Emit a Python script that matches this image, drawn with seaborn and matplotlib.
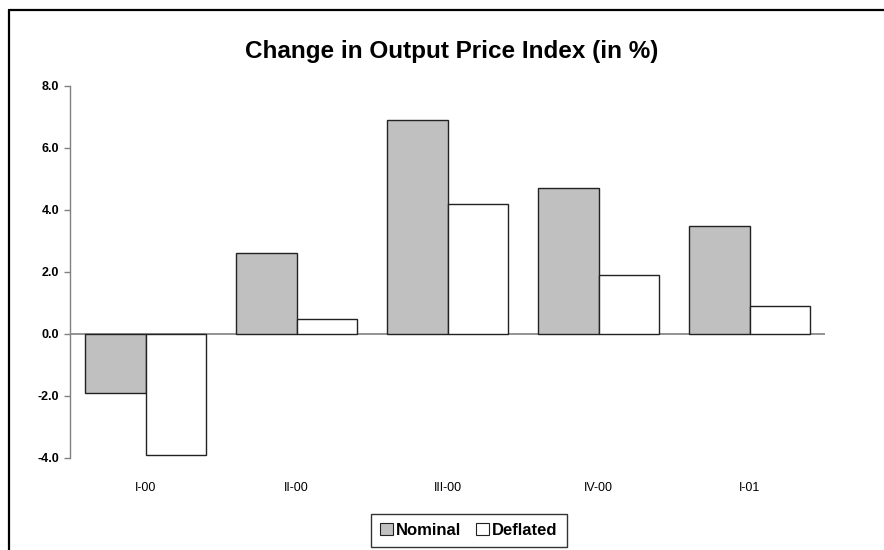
import matplotlib
matplotlib.use("Agg")
import matplotlib.pyplot as plt
from matplotlib.lines import Line2D
from matplotlib.patches import Patch
import seaborn as sns
import pandas as pd

categories = ["I-00", "II-00", "III-00", "IV-00", "I-01"]
nominal = [-1.9, 2.6, 6.9, 4.7, 3.5]
deflated = [-3.9, 0.5, 4.2, 1.9, 0.9]
series_names = ["Nominal", "Deflated"]
y_ticks = [-4.0, -2.0, 0.0, 2.0, 4.0, 6.0, 8.0]

df = pd.DataFrame({
    "Quarter": categories * 2,
    "Series": [series_names[0]] * len(categories) + [series_names[1]] * len(categories),
    "Value": nominal + deflated,
})

sns.set_theme(style="white")
plt.rcParams["font.family"] = ["Liberation Sans", "DejaVu Sans"]
plt.rcParams["text.color"] = "black"
plt.rcParams["xtick.color"] = "black"
plt.rcParams["ytick.color"] = "black"
plt.rcParams["axes.labelcolor"] = "black"

fig = plt.figure(figsize=(8.84, 5.5), dpi=100)
ax = fig.add_axes([70 / 884, 1 - 458 / 550, (825 - 70) / 884, (458 - 86) / 550])

palette = {"Nominal": "#C0C0C0", "Deflated": "#FFFFFF"}
sns.barplot(data=df, x="Quarter", y="Value", hue="Series", order=categories,
            hue_order=series_names, palette=palette, width=0.8,
            edgecolor="#222222", linewidth=1.0, saturation=1, ax=ax, legend=False)

ax.set_xlim(-0.5, len(categories) - 0.5)
ax.set_ylim(-4.0, 8.0)
ax.set_yticks(y_ticks)
ax.set_yticklabels([f"{t:.1f}" for t in y_ticks], fontsize=9, fontweight="bold")
ax.tick_params(axis="y", length=4, width=1, color="#808080", labelcolor="black",
               direction="out", pad=4, left=True)
ax.tick_params(axis="x", length=0, pad=17, labelsize=9, labelcolor="black")
ax.set_xlabel("")
ax.set_ylabel("")
for s in ["top", "right", "bottom"]:
    ax.spines[s].set_visible(False)
ax.spines["left"].set_color("#808080")
ax.spines["left"].set_linewidth(1.0)
ax.axhline(0, color="#808080", linewidth=1.2, zorder=0.5)
ax.set_facecolor("white")
ax.grid(False)

fig.text(452 / 884, 1 - 52 / 550, "Change in Output Price Index (in %)",
         ha="center", va="center", fontsize=17.5, fontweight="bold", color="black")

handles = [Patch(facecolor=palette[n], edgecolor="#222222", linewidth=0.8, label=n) for n in series_names]
leg = fig.legend(handles=handles, loc="upper left", bbox_to_anchor=(371 / 884, 1 - 514 / 550),
                 ncol=2, frameon=True, fancybox=False, fontsize=12,
                 handlelength=0.75, handleheight=0.75, handletextpad=0.2, columnspacing=0.9,
                 borderpad=0.55, borderaxespad=0)
leg.get_frame().set_edgecolor("#000000")
leg.get_frame().set_linewidth(1.0)
for t in leg.get_texts():
    t.set_fontweight("bold")
    t.set_color("black")

# figure border (top and left visible)
fig.add_artist(Line2D([9 / 884, 1.0], [1 - 10 / 550, 1 - 10 / 550], transform=fig.transFigure,
                      color="black", linewidth=1.6))
fig.add_artist(Line2D([9 / 884, 9 / 884], [0, 1 - 10 / 550], transform=fig.transFigure,
                      color="black", linewidth=1.6))

fig.savefig("out.png", dpi=100)
